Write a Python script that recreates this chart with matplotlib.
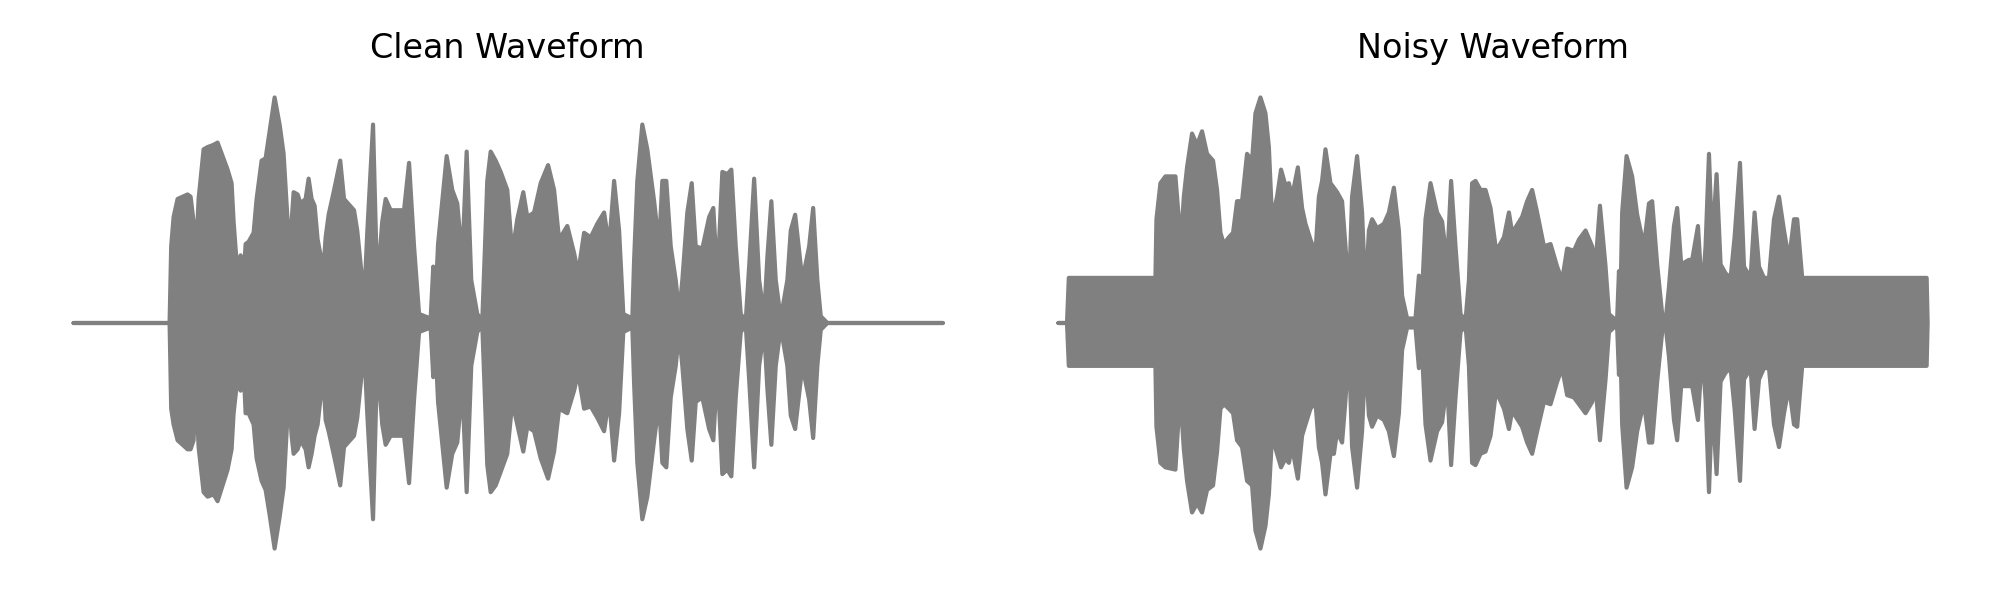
import numpy as np
import matplotlib
matplotlib.use('Agg')
import matplotlib.pyplot as plt

# Envelope of the clean waveform (time in s, amplitude)
clean_t = [0.000, 0.480, 0.488, 0.500, 0.520, 0.570, 0.585, 0.600, 0.610, 0.625,
           0.650, 0.670, 0.700, 0.720, 0.745, 0.770, 0.790, 0.800, 0.815, 0.830,
           0.835, 0.850, 0.860, 0.875, 0.900, 0.915, 0.940, 0.960, 0.980, 1.005,
           1.030, 1.050, 1.070, 1.080, 1.090, 1.100, 1.120, 1.135, 1.160, 1.175,
           1.190, 1.205, 1.220, 1.235, 1.250, 1.260, 1.275, 1.300, 1.333, 1.352,
           1.402, 1.418, 1.443, 1.455, 1.468, 1.497, 1.518, 1.543, 1.560, 1.585,
           1.652, 1.677, 1.702, 1.727, 1.785, 1.798, 1.810, 1.822, 1.865, 1.893,
           1.918, 1.943, 1.965, 1.988, 2.018, 2.043, 2.055, 2.068, 2.085, 2.110,
           2.135, 2.168, 2.193, 2.218, 2.248, 2.268, 2.302, 2.335, 2.372, 2.402,
           2.427, 2.468, 2.502, 2.522, 2.552, 2.585, 2.618, 2.652, 2.677, 2.702,
           2.727, 2.748, 2.793, 2.802, 2.818, 2.843, 2.868, 2.902, 2.927, 2.943,
           2.963, 2.985, 3.010, 3.027, 3.043, 3.068, 3.090, 3.110, 3.143, 3.177,
           3.198, 3.218, 3.243, 3.268, 3.288, 3.310, 3.335, 3.360, 3.377, 3.402,
           3.427, 3.452, 3.468, 3.488, 3.510, 3.535, 3.568, 3.585, 3.607, 3.643,
           3.677, 3.697, 3.718, 3.735, 3.768, 4.345]
clean_up = [0.00, 0.00, 0.34, 0.47, 0.55, 0.57, 0.56, 0.45, 0.25, 0.55,
            0.77, 0.78, 0.79, 0.80, 0.74, 0.68, 0.62, 0.45, 0.27, 0.26,
            0.30, 0.20, 0.35, 0.36, 0.40, 0.55, 0.72, 0.73, 0.85, 1.00,
            0.88, 0.75, 0.45, 0.30, 0.45, 0.58, 0.57, 0.53, 0.55, 0.64,
            0.55, 0.52, 0.37, 0.30, 0.25, 0.38, 0.48, 0.58, 0.72, 0.55,
            0.50, 0.41, 0.19, 0.15, 0.40, 0.88, 0.16, 0.45, 0.55, 0.50,
            0.50, 0.71, 0.34, 0.04, 0.02, 0.25, 0.12, 0.35, 0.74, 0.59,
            0.53, 0.28, 0.76, 0.19, 0.04, 0.01, 0.30, 0.63, 0.76, 0.72,
            0.67, 0.59, 0.31, 0.46, 0.58, 0.47, 0.49, 0.62, 0.70, 0.59,
            0.37, 0.43, 0.31, 0.22, 0.40, 0.38, 0.44, 0.49, 0.34, 0.63,
            0.41, 0.04, 0.02, 0.28, 0.63, 0.88, 0.77, 0.54, 0.34, 0.63,
            0.63, 0.34, 0.19, 0.04, 0.19, 0.49, 0.62, 0.34, 0.33, 0.47,
            0.51, 0.19, 0.67, 0.66, 0.68, 0.34, 0.04, 0.01, 0.25, 0.64,
            0.19, 0.03, 0.29, 0.54, 0.19, 0.02, 0.19, 0.41, 0.48, 0.19,
            0.34, 0.51, 0.19, 0.03, 0.00, 0.00]
clean_low = [0.00, 0.00, 0.38, 0.45, 0.52, 0.56, 0.56, 0.52, 0.25, 0.55,
             0.75, 0.77, 0.76, 0.79, 0.72, 0.65, 0.56, 0.40, 0.28, 0.25,
             0.30, 0.20, 0.40, 0.40, 0.45, 0.60, 0.70, 0.74, 0.85, 1.00,
             0.86, 0.73, 0.40, 0.35, 0.50, 0.58, 0.56, 0.52, 0.56, 0.64,
             0.58, 0.50, 0.45, 0.33, 0.25, 0.43, 0.48, 0.58, 0.72, 0.55,
             0.50, 0.42, 0.20, 0.15, 0.40, 0.87, 0.16, 0.45, 0.54, 0.50,
             0.50, 0.71, 0.34, 0.04, 0.02, 0.24, 0.12, 0.35, 0.73, 0.58,
             0.53, 0.28, 0.75, 0.19, 0.04, 0.01, 0.30, 0.63, 0.75, 0.72,
             0.66, 0.58, 0.35, 0.45, 0.57, 0.46, 0.48, 0.60, 0.69, 0.57,
             0.38, 0.40, 0.30, 0.22, 0.38, 0.37, 0.42, 0.48, 0.33, 0.61,
             0.40, 0.04, 0.02, 0.27, 0.62, 0.87, 0.77, 0.52, 0.35, 0.62,
             0.64, 0.33, 0.19, 0.04, 0.19, 0.47, 0.61, 0.35, 0.33, 0.47,
             0.52, 0.20, 0.67, 0.65, 0.68, 0.33, 0.04, 0.01, 0.25, 0.64,
             0.19, 0.03, 0.29, 0.54, 0.19, 0.02, 0.19, 0.41, 0.47, 0.19,
             0.34, 0.51, 0.19, 0.03, 0.00, 0.00]

# Envelope of the noisy waveform
noisy_t = [0.000, 0.043, 0.052, 0.485, 0.490, 0.510, 0.535, 0.585, 0.602, 0.613,
           0.627, 0.643, 0.668, 0.693, 0.718, 0.743, 0.773, 0.793, 0.810, 0.827,
           0.852, 0.873, 0.893, 0.918, 0.943, 0.968, 0.985, 1.010, 1.035, 1.052,
           1.068, 1.093, 1.113, 1.135, 1.152, 1.168, 1.197, 1.218, 1.235, 1.260,
           1.285, 1.302, 1.318, 1.335, 1.360, 1.377, 1.393, 1.418, 1.435, 1.452,
           1.468, 1.493, 1.518, 1.535, 1.552, 1.568, 1.593, 1.627, 1.652, 1.677,
           1.702, 1.718, 1.743, 1.785, 1.802, 1.813, 1.835, 1.860, 1.893, 1.918,
           1.943, 1.963, 1.985, 2.010, 2.035, 2.052, 2.068, 2.085, 2.110, 2.135,
           2.160, 2.185, 2.202, 2.227, 2.252, 2.268, 2.318, 2.343, 2.368, 2.393,
           2.427, 2.460, 2.493, 2.518, 2.543, 2.577, 2.602, 2.635, 2.668, 2.685,
           2.707, 2.735, 2.752, 2.777, 2.793, 2.802, 2.810, 2.818, 2.840, 2.868,
           2.893, 2.927, 2.952, 2.968, 2.993, 3.018, 3.035, 3.052, 3.077, 3.093,
           3.113, 3.152, 3.168, 3.197, 3.218, 3.235, 3.252, 3.268, 3.290, 3.310,
           3.335, 3.360, 3.380, 3.407, 3.427, 3.460, 3.480, 3.502, 3.527, 3.552,
           3.577, 3.602, 3.627, 3.652, 3.677, 3.693, 3.718, 4.340, 4.345]
noisy_up = [0.00, 0.00, 0.20, 0.20, 0.46, 0.62, 0.65, 0.65, 0.46, 0.37,
            0.56, 0.69, 0.84, 0.79, 0.85, 0.75, 0.72, 0.59, 0.40, 0.35,
            0.38, 0.40, 0.54, 0.54, 0.75, 0.72, 0.93, 1.00, 0.93, 0.78,
            0.46, 0.56, 0.68, 0.61, 0.62, 0.56, 0.69, 0.51, 0.44, 0.37,
            0.31, 0.56, 0.63, 0.77, 0.62, 0.60, 0.58, 0.54, 0.34, 0.12,
            0.56, 0.74, 0.49, 0.12, 0.41, 0.46, 0.42, 0.44, 0.49, 0.60,
            0.41, 0.12, 0.02, 0.02, 0.21, 0.04, 0.46, 0.62, 0.49, 0.45,
            0.26, 0.63, 0.34, 0.04, 0.01, 0.19, 0.62, 0.63, 0.59, 0.59,
            0.51, 0.34, 0.34, 0.38, 0.49, 0.40, 0.47, 0.54, 0.59, 0.49,
            0.34, 0.35, 0.25, 0.19, 0.33, 0.32, 0.37, 0.41, 0.34, 0.26,
            0.52, 0.25, 0.04, 0.02, 0.02, 0.23, 0.12, 0.49, 0.74, 0.65,
            0.48, 0.34, 0.53, 0.54, 0.26, 0.04, 0.01, 0.16, 0.43, 0.51,
            0.26, 0.28, 0.28, 0.43, 0.12, 0.34, 0.75, 0.34, 0.66, 0.26,
            0.22, 0.20, 0.38, 0.71, 0.25, 0.20, 0.49, 0.25, 0.20, 0.20,
            0.46, 0.56, 0.41, 0.28, 0.46, 0.46, 0.20, 0.20, 0.00]
noisy_low = [0.00, 0.00, 0.19, 0.19, 0.46, 0.62, 0.64, 0.65, 0.40, 0.37,
             0.56, 0.70, 0.84, 0.80, 0.84, 0.74, 0.72, 0.57, 0.38, 0.36,
             0.38, 0.40, 0.52, 0.55, 0.70, 0.72, 0.92, 1.00, 0.90, 0.76,
             0.50, 0.58, 0.64, 0.60, 0.62, 0.55, 0.69, 0.50, 0.45, 0.38,
             0.35, 0.55, 0.62, 0.76, 0.58, 0.58, 0.48, 0.53, 0.34, 0.10,
             0.55, 0.73, 0.48, 0.13, 0.41, 0.46, 0.41, 0.43, 0.48, 0.59,
             0.40, 0.12, 0.02, 0.02, 0.20, 0.04, 0.45, 0.61, 0.48, 0.44,
             0.26, 0.63, 0.33, 0.04, 0.01, 0.19, 0.62, 0.63, 0.58, 0.57,
             0.50, 0.32, 0.33, 0.38, 0.47, 0.39, 0.46, 0.53, 0.58, 0.48,
             0.35, 0.36, 0.26, 0.20, 0.32, 0.33, 0.36, 0.40, 0.35, 0.28,
             0.52, 0.25, 0.04, 0.02, 0.02, 0.23, 0.12, 0.45, 0.73, 0.64,
             0.48, 0.35, 0.53, 0.53, 0.26, 0.04, 0.01, 0.15, 0.43, 0.52,
             0.28, 0.28, 0.28, 0.43, 0.12, 0.34, 0.75, 0.34, 0.67, 0.26,
             0.22, 0.20, 0.38, 0.70, 0.25, 0.20, 0.47, 0.25, 0.20, 0.20,
             0.45, 0.55, 0.40, 0.28, 0.45, 0.46, 0.19, 0.19, 0.00]

titles = ['Clean Waveform', 'Noisy Waveform']

fig, axes = plt.subplots(1, 2, figsize=(10, 3), dpi=200)
plt.subplots_adjust(left=0.0148, right=0.9853, top=0.876, bottom=0.049, wspace=0.03)

series = [(clean_t, clean_up, clean_low), (noisy_t, noisy_up, noisy_low)]
for ax, (t, up, low), title in zip(axes, series, titles):
    t = np.array(t)
    ax.fill_between(t, np.array(up), -np.array(low), color='gray',
                    edgecolor='gray', linewidth=1.5)
    ax.set_title(title, fontsize=12)
    ax.axis('off')

plt.savefig('out.png', dpi=200)
